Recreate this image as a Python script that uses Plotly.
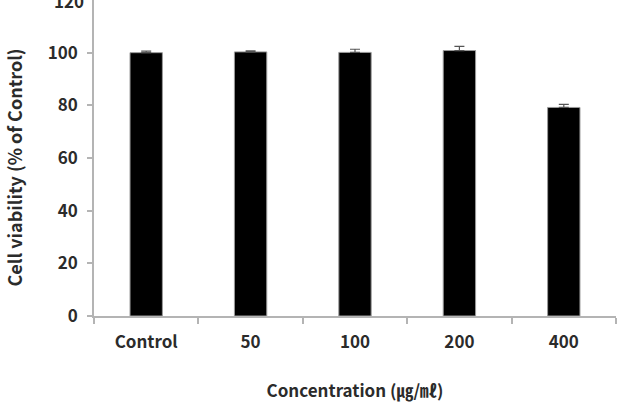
import plotly.graph_objects as go

categories = ["Control", "50", "100", "200", "400"]
viability = [100.0, 100.3, 100.1, 100.8, 79.2]
errors = [0.6, 0.4, 1.2, 1.6, 1.2]
y_ticks = [0, 20, 40, 60, 80, 100, 120]

font_family = "Noto Sans CJK KR, Noto Sans, sans-serif"
text_color = "#2b2b2b"
axis_color = "#b4b4b4"

fig = go.Figure()
fig.add_trace(go.Bar(
    x=categories,
    y=viability,
    marker=dict(color="#000000", line=dict(color="#9a9a9a", width=1)),
    width=0.31,
    error_y=dict(type="data", array=errors, arrayminus=[0] * len(errors),
                 symmetric=False, color="#555555", thickness=1.2, width=5),
))

# top tick label (partly cut off by the page edge, as in the reference)
fig.add_annotation(
    x=0, xref="paper", xanchor="right", xshift=-8,
    y=y_ticks[-1], yref="y", yanchor="middle",
    text="<b>%d</b>" % y_ticks[-1], showarrow=False,
    font=dict(size=17, family=font_family, color=text_color),
)

# y-axis title
fig.add_annotation(
    x=0, xref="paper", xanchor="center", xshift=-80,
    y=0.47, yref="paper", yanchor="middle",
    text="<b>Cell viability (% of Control)</b>", textangle=-90, showarrow=False,
    font=dict(size=18, family=font_family, color=text_color),
)

fig.update_layout(
    width=634, height=402,
    margin=dict(l=94, r=18, t=0, b=86),
    paper_bgcolor="white", plot_bgcolor="white",
    showlegend=False,
    font=dict(family=font_family, color=text_color),
    xaxis=dict(
        showline=True, linecolor=axis_color, linewidth=1.5,
        ticks="outside", tickson="boundaries", ticklen=6, tickcolor=axis_color,
        tickwidth=1.5,
        tickfont=dict(size=17, family=font_family, color=text_color, weight="bold"),
        ticklabelstandoff=10,
        title=dict(text="<b>Concentration (㎍/㎖)</b>", font=dict(size=17, color=text_color),
                   standoff=33),
        showgrid=False, zeroline=False,
    ),
    yaxis=dict(
        range=[0, 120], tickvals=y_ticks[:-1],
        showline=True, linecolor=axis_color, linewidth=1.5,
        ticks="outside", ticklen=5, tickcolor=axis_color, tickwidth=1.5,
        tickfont=dict(size=17, family=font_family, color=text_color, weight="bold"),
        ticklabelstandoff=6,
        showgrid=False, zeroline=False,
    ),
)

fig.write_html("out.html")
